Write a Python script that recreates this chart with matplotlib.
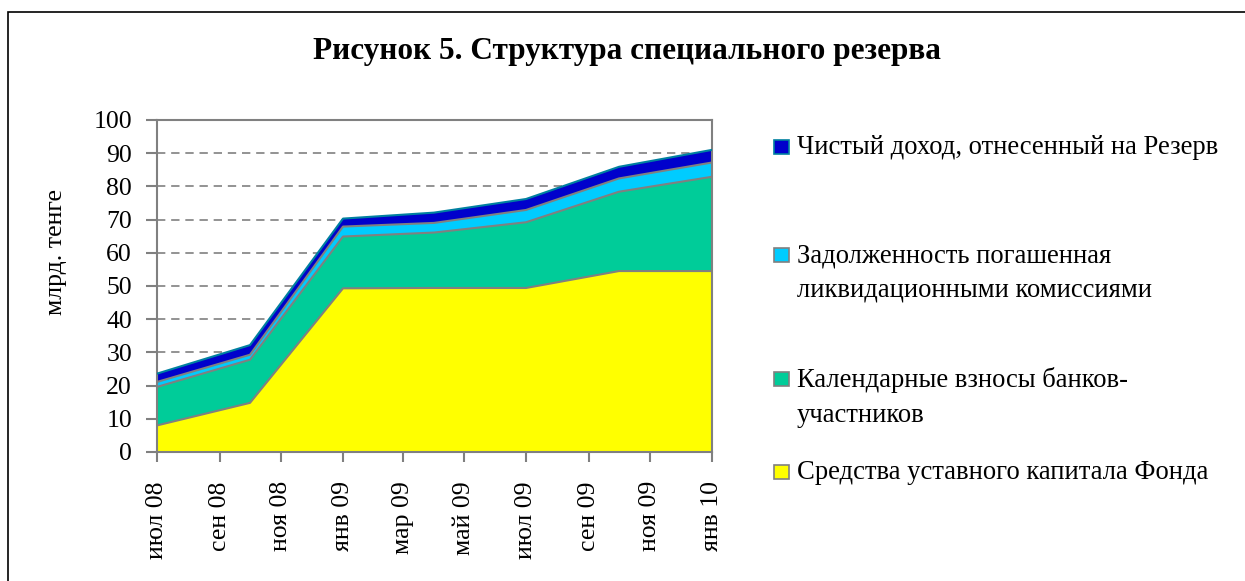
import pandas as pd
import matplotlib
matplotlib.use("Agg")
from matplotlib import pyplot as plt
from matplotlib.patches import Rectangle

# Data (billion tenge), quarterly
dates = ["2008-07-01", "2008-10-01", "2009-01-01", "2009-04-01",
         "2009-07-01", "2009-10-01", "2010-01-01"]
capital = [8.0, 14.8, 49.3, 49.4, 49.4, 54.5, 54.5]
contributions = [11.6, 13.0, 15.6, 16.7, 19.8, 23.9, 28.4]
liquidation = [1.5, 1.5, 3.0, 2.9, 3.7, 4.0, 4.3]
income = [2.5, 2.9, 2.4, 3.1, 3.3, 3.5, 3.8]

series_names = [
    "Средства уставного капитала Фонда",
    "Календарные взносы банков-\nучастников",
    "Задолженность погашенная\nликвидационными комиссиями",
    "Чистый доход, отнесенный на Резерв",
]
colors = ["#FFFF00", "#00CC99", "#00CCFF", "#0000CC"]
edge_colors = ["#808080", "#808080", "#808080", "#0080A0"]

tick_dates = ["2008-07-01", "2008-09-01", "2008-11-01", "2009-01-01", "2009-03-01",
              "2009-05-01", "2009-07-01", "2009-09-01", "2009-11-01", "2010-01-01"]
tick_labels = ["июл 08", "сен 08", "ноя 08", "янв 09", "мар 09",
               "май 09", "июл 09", "сен 09", "ноя 09", "янв 10"]

plt.rcParams["font.family"] = ["Liberation Serif", "DejaVu Serif"]

x = pd.to_datetime(dates)
W, H = 1245, 581
fig = plt.figure(figsize=(W / 100, H / 100), dpi=100)

# outer frame (only left and top edges visible)
fig.patches.append(Rectangle((8 / W, -0.1), 1.2, 1 - 12 / H + 0.1, transform=fig.transFigure,
                             fill=False, edgecolor="black", linewidth=1.2))

ax = fig.add_axes([157 / W, 1 - 452 / H, (712 - 157) / W, (452 - 120) / H])

layers = [capital, contributions, liquidation, income]
bottom = [0.0] * len(dates)
for vals, c, ec in zip(layers, colors, edge_colors):
    top = [b + v for b, v in zip(bottom, vals)]
    ax.fill_between(x, bottom, top, facecolor=c, edgecolor="none", zorder=2)
    ax.plot(x, top, color=ec, linewidth=1.5, zorder=3)
    bottom = top

ax.set_xlim(pd.Timestamp("2008-07-01"), pd.Timestamp("2010-01-01"))
ax.set_ylim(0, 100)
ax.set_yticks(range(0, 101, 10))
ax.set_xticks(pd.to_datetime(tick_dates))
ax.set_xticklabels(tick_labels, rotation=90, fontsize=18.5)
ax.tick_params(axis="y", labelsize=18.5, length=8, width=1.5, color="#808080", pad=10)
ax.tick_params(axis="x", length=7, width=1.5, color="#808080", pad=14)

ax.grid(axis="y", color="#808080", linestyle=(0, (5, 3.5)), linewidth=1.2, zorder=1)
for s in ax.spines.values():
    s.set_color("#808080")
    s.set_linewidth(1.5)

fig.text(56 / W, 1 - 252 / H, "млрд. тенге", rotation=90, ha="center", va="center",
         fontsize=18.5)
fig.text(627 / W, 1 - 52 / H, "Рисунок 5. Структура специального резерва",
         ha="center", va="center", fontsize=22.5, fontweight="bold")

# legend, drawn by hand so the marker sits on the first line
legend_y = [472, 379, 255, 147]
for name, c, ec, ly in zip(series_names, colors, edge_colors, legend_y):
    fig.patches.append(Rectangle((774 / W, 1 - (ly + 7) / H), 15 / W, 14 / H,
                                 transform=fig.transFigure, facecolor=c,
                                 edgecolor=ec, linewidth=1.2))
    fig.text(797 / W, 1 - (ly - 12) / H, name, ha="left", va="top", fontsize=19.2,
             linespacing=1.5)

fig.savefig("out.png", dpi=100)
